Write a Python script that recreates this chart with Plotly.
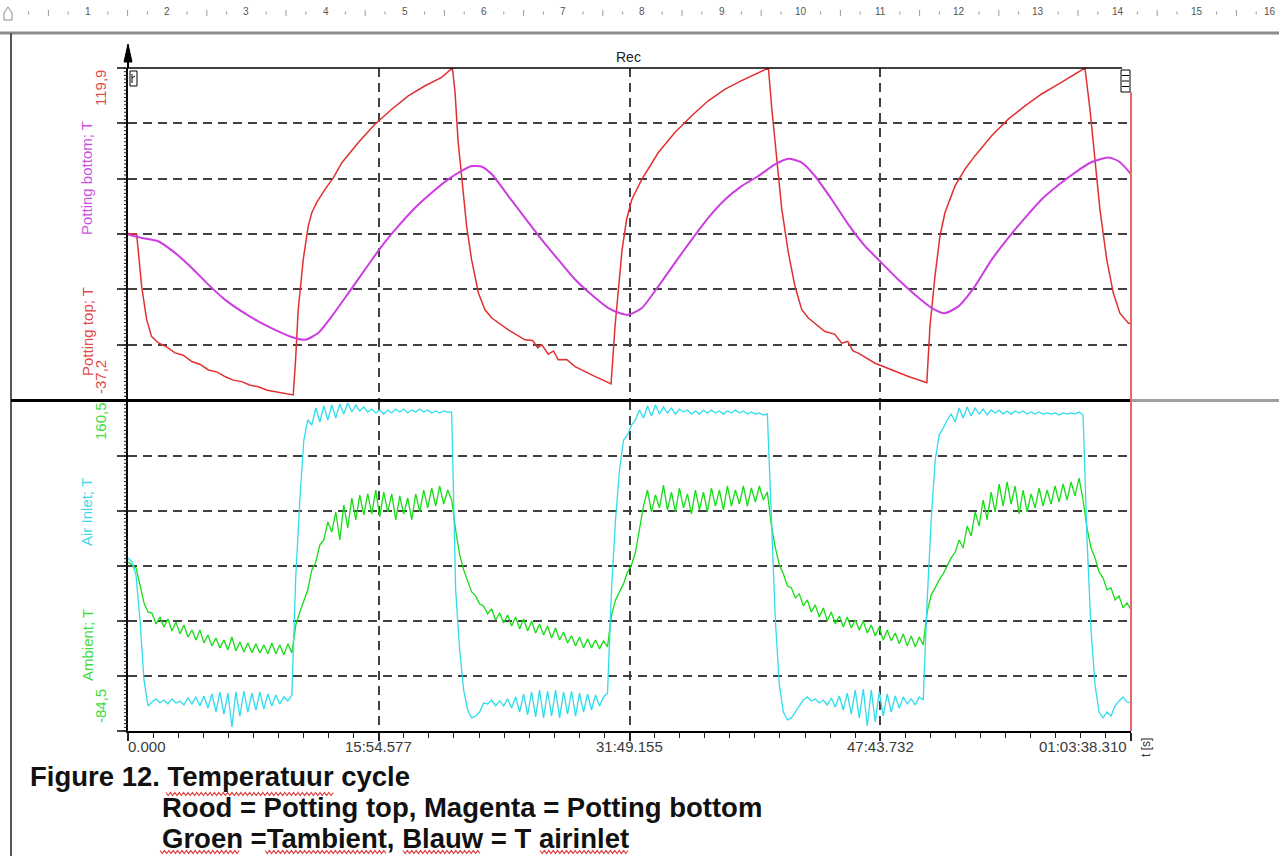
import numpy as np
import plotly.graph_objects as go

W, H = 1279, 856
FONT = "Liberation Sans, Arial, sans-serif"

# ---------------- data ----------------
T_END = 3818.31
T_MAJOR = [0.0, 954.577, 1909.155, 2863.732, 3818.31]
T_LABELS = ["0.000", "15:54.577", "31:49.155", "47:43.732", "01:03:38.310"]
TOP_RANGE = [-37.2, 119.9]
BOT_RANGE = [-84.5, 160.5]

# Potting top (time [s], T)
red_t = [0, 33, 52, 71, 90, 115, 150, 179, 210, 243, 275, 306, 340, 369, 400, 433, 465, 496, 530, 560, 595, 629,
         638, 648, 667, 686, 700, 718, 750, 782, 814, 877, 940, 1004, 1067, 1131, 1194, 1235,
         1245, 1257, 1270, 1289, 1308, 1334, 1359, 1385, 1448, 1511, 1540, 1560, 1575, 1600, 1620, 1638, 1670, 1702, 1765, 1829, 1839,
         1854, 1867, 1881, 1898, 1918, 1956, 2019, 2082, 2146, 2209, 2273, 2336, 2400, 2438,
         2451, 2470, 2489, 2514, 2539, 2565, 2590, 2653, 2690, 2717, 2740, 2760, 2780, 2844, 2907, 2971, 3041,
         3053, 3072, 3091, 3110, 3148, 3186, 3224, 3288, 3351, 3415, 3478, 3542, 3605, 3643,
         3662, 3681, 3700, 3726, 3751, 3776, 3808, 3818]
red_v = [41.6, 41.1, 16.6, 0.8, -7.2, -10.1, -12.3, -14.9, -16.0, -19.0, -20.4, -23.0, -24.0, -26.1, -27.8, -28.5, -30.2, -30.9, -32.6, -33.3, -34.2, -34.8,
         -18.2, 5.5, 29.2, 45.1, 51.5, 56.2, 62.5, 68.0, 75.1, 84.6, 93.3, 100.4, 106.7, 111.5, 115.5, 119.9,
         108.5, 84.6, 68.8, 45.1, 29.2, 13.4, 5.5, 1.6, -4.0, -8.7, -9.0, -12.5, -11.0, -15.5, -14.0, -18.2, -18.0, -21.4, -25.3, -29.3, -29.6,
         -2.4, 13.6, 34.0, 48.2, 57.7, 67.2, 79.9, 89.4, 97.3, 104.4, 109.9, 113.9, 117.9, 119.9,
         100.4, 76.7, 53.0, 32.4, 16.6, 5.5, 1.6, -4.8, -6.0, -10.3, -9.5, -14.0, -15.0, -19.8, -23.0, -26.1, -29.0,
         -2.4, 21.3, 40.3, 51.4, 64.0, 72.0, 78.3, 87.8, 95.7, 102.0, 107.6, 112.3, 117.0, 119.9,
         100.4, 76.7, 53.0, 29.2, 13.4, 3.9, -0.8, -1.1]

# Potting bottom (time [s], T)
mag_t = [0, 52, 115, 179, 243, 306, 369, 433, 496, 560, 623, 674, 724, 775, 839, 902, 966, 1029, 1093, 1156,
         1219, 1270, 1308, 1347, 1385, 1448, 1511, 1575, 1638, 1702, 1765, 1829, 1879, 1905, 1956, 2019, 2082, 2146, 2209, 2273,
         2336, 2400, 2463, 2514, 2565, 2615, 2679, 2742, 2806, 2869, 2932, 2996, 3060, 3110, 3161, 3224, 3288, 3351, 3415, 3478,
         3542, 3605, 3669, 3732, 3770, 3808, 3818]
mag_v = [41.1, 39.5, 37.9, 32.4, 25.3, 17.4, 10.3, 4.7, 0.0, -4.0, -7.4, -8.7, -5.5, 2.3, 13.4, 24.5, 35.6, 45.1, 53.8, 60.9,
         67.2, 71.2, 73.5, 73.2, 69.6, 59.3, 49.0, 38.7, 29.2, 19.8, 12.6, 6.3, 3.6, 3.1, 6.3, 16.6, 27.7, 38.7, 49.0, 57.7,
         64.0, 68.8, 74.3, 77.0, 75.1, 68.8, 57.7, 45.9, 35.6, 27.7, 19.8, 12.6, 6.3, 3.9, 7.1, 16.6, 29.2, 39.5, 49.0, 57.7,
         64.5, 70.4, 75.4, 77.5, 75.9, 71.2, 69.6]

# Air inlet, recorder samples spread evenly over the record
air_inlet = [
    44.0, 41.0, 31.3, -2.1, -46.6,
    -65.9, -63.0, -60.7, -63.7, -61.5, -64.4, -60.7, -63.7, -62.2, -65.2, -60.0, -64.4, -59.2, -65.9, -58.5, -67.4,
    -57.0, -70.4, -55.5, -71.9, -56.3, -81.5, -55.5, -73.4, -54.8, -70.4, -56.3, -68.9, -55.5, -68.2, -57.0, -65.9,
    -57.8, -64.4, -59.2, -62.2, -57.8,
    31.3, 87.0, 131.5, 146.4,
    142.7, 155.3, 144.9, 156.8, 146.4, 157.5, 147.9, 158.3, 150.8, 159.0, 152.3, 157.5, 153.1, 156.0, 152.3, 154.5,
    151.6, 153.8, 150.8, 153.8, 151.6, 154.5, 152.3, 154.5, 151.6, 153.8, 152.3, 154.5, 152.3, 153.8, 151.6, 153.1,
    151.6, 153.1, 152.3, 152.3,
    20.2, -24.4, -54.1, -68.9, -74.8, -73.4, -70.4, -63.7,
    -64.4, -61.5, -65.9, -62.2, -65.9, -60.7, -67.4, -59.2, -70.4, -57.0, -72.6, -55.5, -74.1, -54.1, -74.8, -54.8,
    -73.4, -54.1, -74.8, -55.5, -71.9, -54.8, -73.4, -56.3, -70.4, -57.0, -68.9, -57.8, -65.9, -59.2, -56.3,
    20.2, 72.1, 109.3, 131.5, 135.3, 142.7, 146.4, 153.8, 147.9, 156.8, 149.4, 157.5, 150.8, 156.0, 151.6, 155.3,
    150.8, 154.5, 152.3, 153.8, 150.8, 153.1, 150.8, 153.8, 151.6, 153.8, 151.6, 153.1, 150.8, 153.1, 151.6, 153.8,
    151.6, 153.1, 150.8, 152.3, 150.8, 151.6, 150.1, 150.8,
    72.1, -2.1, -50.3, -70.4, -76.3, -74.8, -70.4, -65.9, -61.5, -59.2, -62.2, -60.7, -63.7, -61.5, -65.2, -60.0,
    -66.7, -58.5, -68.9, -56.3, -71.9, -54.1, -74.8, -53.3, -80.8, -54.1, -77.8, -55.5, -73.4, -57.0, -70.4, -58.5,
    -67.4, -59.2, -64.4, -60.7, -65.2, -59.2, -61.5,
    12.8, 72.1, 116.7, 135.3, 140.4, 146.4, 150.8, 144.9, 155.3, 147.9, 156.0, 149.4, 155.3, 150.8, 154.5, 150.1,
    153.8, 151.6, 153.8, 150.8, 153.1, 150.8, 153.1, 151.6, 153.1, 150.8, 152.3, 150.8, 152.3, 150.8, 151.6, 150.8,
    151.6, 150.1, 151.6, 150.8, 151.6, 150.8, 152.3, 150.1,
    57.3, -9.5, -50.3, -70.4, -74.8, -70.4, -73.4, -65.9, -62.2, -59.2, -63.0, -63.7,
]

# Ambient, same sampling
ambient = [
    41.0, 38.8, 36.6, 24.0, 10.6, 3.9,
    3.1, -5.0, 0.1, -7.3, -1.3, -10.2, -3.6, -12.4, -5.8, -14.7, -9.5, -16.9, -9.5, -19.1, -13.2, -21.3,
    -15.4, -22.8, -16.9, -24.3, -14.7, -25.0, -18.4, -25.8, -19.1, -26.5, -19.8, -26.5, -20.6, -27.2, -19.1, -27.2,
    -20.6, -28.0, -19.8, -26.5,
    -5.8, 3.9, 12.8, 20.3, 35.1, 41.0, 53.6, 57.3, 70.7, 63.2, 78.1, 57.3, 83.3, 66.2, 88.5, 72.2,
    90.7, 75.9, 91.5, 76.6, 94.4, 74.4, 92.9, 78.1, 91.5, 72.2, 90.0, 76.6, 88.5, 72.2, 91.5, 78.1,
    94.4, 81.1, 95.9, 82.5, 97.4, 84.0, 94.4, 87.0,
    64.7, 46.2, 35.1, 27.7, 18.8, 15.8, 9.8, 8.4, 2.4, 6.1, -2.1, 3.1, -4.3, 1.6, -6.5, 0.1,
    -8.7, -1.3, -10.2, -2.8, -11.7, -5.0, -13.2, -6.5, -15.4, -8.0, -16.9, -11.0, -19.1, -13.9, -21.3, -14.7,
    -22.8, -16.1, -22.8, -16.9, -23.5, -17.6, -22.1,
    1.6, 12.8, 18.8, 24.7, 33.6, 38.8, 48.4, 64.7, 82.5, 94.4, 78.1, 90.7, 81.1, 98.1, 79.6, 92.9,
    78.1, 95.9, 81.1, 91.5, 76.6, 94.4, 79.6, 92.9, 78.1, 95.9, 82.5, 94.4, 79.6, 97.4, 82.5, 94.4,
    84.0, 97.4, 82.5, 95.9, 85.5, 97.4, 87.0, 92.9,
    68.4, 51.4, 38.8, 32.2, 23.3, 21.8, 14.3, 17.3, 8.4, 12.8, 3.9, 9.1, 0.1, 6.9, -2.8, 3.9,
    -5.0, 0.9, -7.3, 0.1, -8.0, -2.1, -9.5, -2.8, -11.7, -5.8, -13.9, -7.3, -16.9, -9.5, -17.6, -11.7,
    -19.8, -12.4, -21.3, -13.9, -22.1, -14.7, -20.6,
    3.9, 16.6, 21.8, 27.7, 32.2, 38.1, 44.0, 48.4, 57.3, 51.4, 67.7, 60.3, 78.1, 67.7, 87.0, 72.2,
    92.9, 78.1, 98.9, 82.5, 100.4, 84.0, 97.4, 76.6, 94.4, 78.1, 91.5, 81.1, 95.9, 82.5, 94.4, 84.0,
    97.4, 85.5, 98.9, 87.0, 100.4, 90.0, 103.3, 87.0,
    66.2, 51.4, 44.0, 33.6, 29.2, 20.3, 21.8, 12.8, 15.8, 6.9, 10.6, 5.4,
]
sample_t = np.linspace(0.0, T_END, len(ambient))

# ---------------- colours ----------------
C_RED = "#e23030"
C_MAG = "#cc3ee0"
C_CYAN = "#2fdcec"
C_GREEN = "#18dc18"
L_RED = "#e24a4a"
L_MAG = "#cc50e0"
L_CYAN = "#40d8e8"
L_GREEN = "#40dc40"
GRID = "#404040"


def X(px):
    return px / W


def Y(py):
    return 1 - py / H


fig = go.Figure()
fig.add_trace(go.Scatter(x=red_t, y=red_v, mode="lines", line=dict(color=C_RED, width=1.5),
                         xaxis="x", yaxis="y", name="Potting top; T"))
fig.add_trace(go.Scatter(x=mag_t, y=mag_v, mode="lines", line=dict(color=C_MAG, width=2, shape="spline", smoothing=0.6),
                         xaxis="x", yaxis="y", name="Potting bottom; T"))
fig.add_trace(go.Scatter(x=sample_t, y=ambient, mode="lines", line=dict(color=C_GREEN, width=1.3),
                         xaxis="x2", yaxis="y2", name="Ambient; T"))
fig.add_trace(go.Scatter(x=sample_t, y=air_inlet, mode="lines", line=dict(color=C_CYAN, width=1.3),
                         xaxis="x2", yaxis="y2", name="Air Inlet; T"))

PL, PR = 128, 1131
TOP_T, TOP_B = 68, 400
BOT_T, BOT_B = 401, 731
GRID_DASH = "9px,6px"

common_x = dict(range=[0, T_END], domain=[X(PL), X(PR)], zeroline=False, showticklabels=False,
                showgrid=True, gridcolor=GRID, gridwidth=1.5, griddash=GRID_DASH,
                tickmode="array", tickvals=T_MAJOR)


def yax(rng, dom):
    span = rng[1] - rng[0]
    major = [rng[0] + span * k / 6 for k in range(7)]
    return dict(range=rng, domain=dom, zeroline=False, showticklabels=False,
                tickmode="array", tickvals=major,
                showgrid=True, gridcolor=GRID, gridwidth=1.5, griddash=GRID_DASH,
                ticks="outside", ticklen=9, tickwidth=1.5, tickcolor="#444",
                showline=True, linecolor="#000", linewidth=2)


fig.update_layout(
    width=W, height=H, autosize=False,
    margin=dict(l=0, r=0, t=0, b=0),
    paper_bgcolor="white", plot_bgcolor="white",
    showlegend=False,
    font=dict(family=FONT, color="#222"),
    xaxis=dict(**common_x, anchor="y", ticks="", showline=False),
    yaxis=yax(TOP_RANGE, [Y(TOP_B), Y(TOP_T)]),
    xaxis2=dict(**common_x, anchor="y2", ticks="outside", ticklen=8, tickwidth=1.5, tickcolor="#222",
                showline=True, linecolor="#000", linewidth=2,
                minor=dict(ticks="outside", ticklen=5, tickwidth=1, tickcolor="#222",
                           tick0=0, dtick=T_MAJOR[1] / 10, showgrid=False)),
    yaxis2=yax(BOT_RANGE, [Y(BOT_B), Y(BOT_T)]),
)

shapes = []


def line(x0, y0, x1, y1, color, width, layer="above"):
    shapes.append(dict(type="line", xref="paper", yref="paper", x0=X(x0), y0=Y(y0), x1=X(x1), y1=Y(y1),
                       line=dict(color=color, width=width), layer=layer))


def path(points, color, width, fill=None, closed=False):
    d = "M " + " L ".join(f"{X(a):.5f},{Y(b):.5f}" for a, b in points)
    if closed:
        d += " Z"
    shapes.append(dict(type="path", xref="paper", yref="paper", path=d,
                       line=dict(color=color, width=width),
                       fillcolor=fill if fill else "rgba(0,0,0,0)", layer="above"))


def comb(x_left, x_right, y_top, y_bottom, count):
    # fine tick marks down the left side of a value axis
    segs = []
    for k in range(count + 1):
        yy = y_top + (y_bottom - y_top) * k / count
        segs.append(f"M {X(x_left):.5f},{Y(yy):.5f} L {X(x_right):.5f},{Y(yy):.5f}")
    shapes.append(dict(type="path", xref="paper", yref="paper", path=" ".join(segs),
                       line=dict(color="#1a1a1a", width=1), layer="above"))


def wavy(x0, x1, y, amp=1.5, step=2.2):
    pts, x, k = [], x0, 0
    while x <= x1:
        pts.append((x, y + (amp if k % 2 else -amp)))
        x += step
        k += 1
    path(pts, "#e03a3a", 1.1)


# page furniture: ruler, frame lines
line(0, 33, W, 33, "#8c8c8c", 3)
line(11, 33, 11, H, "#555", 2)
path([(4, 20), (4, 13), (8, 7), (12, 13), (12, 20)], "#888", 1, closed=True)
RULER_X0, RULER_STEP = 88.0, 79.2
for k in range(-4, 16 * 4 + 1):
    x = RULER_X0 + RULER_STEP * k / 4
    if x < 14 or x > W - 2 or k % 4 == 0:
        continue
    h = 3 if k % 2 == 0 else 1.5
    line(x, 13 - h, x, 13 + h, "#9a9a9a", 1)

# value-axis fine ticks
comb(124, 128, TOP_T, TOP_B, 90)
comb(124, 128, BOT_T, BOT_B, 90)

# plot frame
line(PL, 68, 1122, 68, "#000", 1.5)
line(11, 400.5, PR, 400.5, "#000", 3)
line(PR, 400.5, W, 400.5, "#a0a0a0", 3)
line(PR, 92, PR, BOT_B, "#e46a6a", 2)
line(PL, 46, PL, 68, "#000", 2)
path([(124, 62), (128, 44), (132, 62)], "#000", 1, fill="#000", closed=True)
# small markers at the top corners
path([(130, 71), (137, 71), (137, 86), (130, 86)], "#000", 1, closed=True)
line(132, 74, 132, 83, "#000", 1)
line(132, 78, 135, 76, "#000", 1)
path([(1121, 70), (1130, 70), (1130, 92), (1121, 92)], "#000", 1, closed=True)
for yy in (75.5, 81, 86.5):
    line(1122, yy, 1129, yy, "#000", 1)

# spelling underlines in the caption
wavy(166, 335, 794)
wavy(160, 241, 852)
wavy(265, 387, 852)
wavy(403, 482, 852)
wavy(540, 630, 852)

fig.update_layout(shapes=shapes)

ann = []


def text(x, y, s, size, color, anchor="center", angle=0, yanchor="middle", bold=False):
    ann.append(dict(xref="paper", yref="paper", x=X(x), y=Y(y), text=f"<b>{s}</b>" if bold else s,
                    showarrow=False, xanchor=anchor, yanchor=yanchor, textangle=angle,
                    font=dict(family=FONT, size=size, color=color)))


for n in range(1, 17):
    xr = min(RULER_X0 + RULER_STEP * (n - 1), W - 9)
    text(xr, 12, str(n), 10, "#555")

text(628, 57, "Rec", 14, "#222")

# time axis labels
for i, (tv, lab) in enumerate(zip(T_MAJOR, T_LABELS)):
    anchor = "left" if i == 0 else ("right" if i == len(T_MAJOR) - 1 else "center")
    shift = -2 if i in (0, len(T_MAJOR) - 1) else 0
    ann.append(dict(xref="x2", yref="paper", x=tv, y=Y(746), text=lab, showarrow=False,
                    xanchor=anchor, yanchor="middle", xshift=shift,
                    font=dict(family=FONT, size=15, color="#3a3a3a")))
text(1146, 748, "t [s]", 12, "#333", angle=-90)

# channel names and range limits
text(100, 88, "119,9", 15, L_RED, angle=-90)
text(87, 178, "Potting bottom; T", 15, L_MAG, angle=-90)
text(87, 332, "Potting top; T", 15, L_RED, angle=-90)
text(100, 377, "-37,2", 15, L_RED, angle=-90)
text(100, 421, "160,5", 15, L_GREEN, angle=-90)
text(87, 512, "Air Inlet; T", 15, L_CYAN, angle=-90)
text(87, 645, "Ambient; T", 15, L_GREEN, angle=-90)
text(100, 706, "-84,5", 15, L_GREEN, angle=-90)

# caption
text(28, 776, "Figure 12. Temperatuur cycle", 27.5, "#111", anchor="left", bold=True)
text(160, 807, "Rood = Potting top, Magenta = Potting bottom", 27.5, "#111", anchor="left", bold=True)
text(160, 838, "Groen =Tambient, Blauw = T airinlet", 27.5, "#111", anchor="left", bold=True)

fig.update_layout(annotations=ann)
fig.write_html("out.html")
